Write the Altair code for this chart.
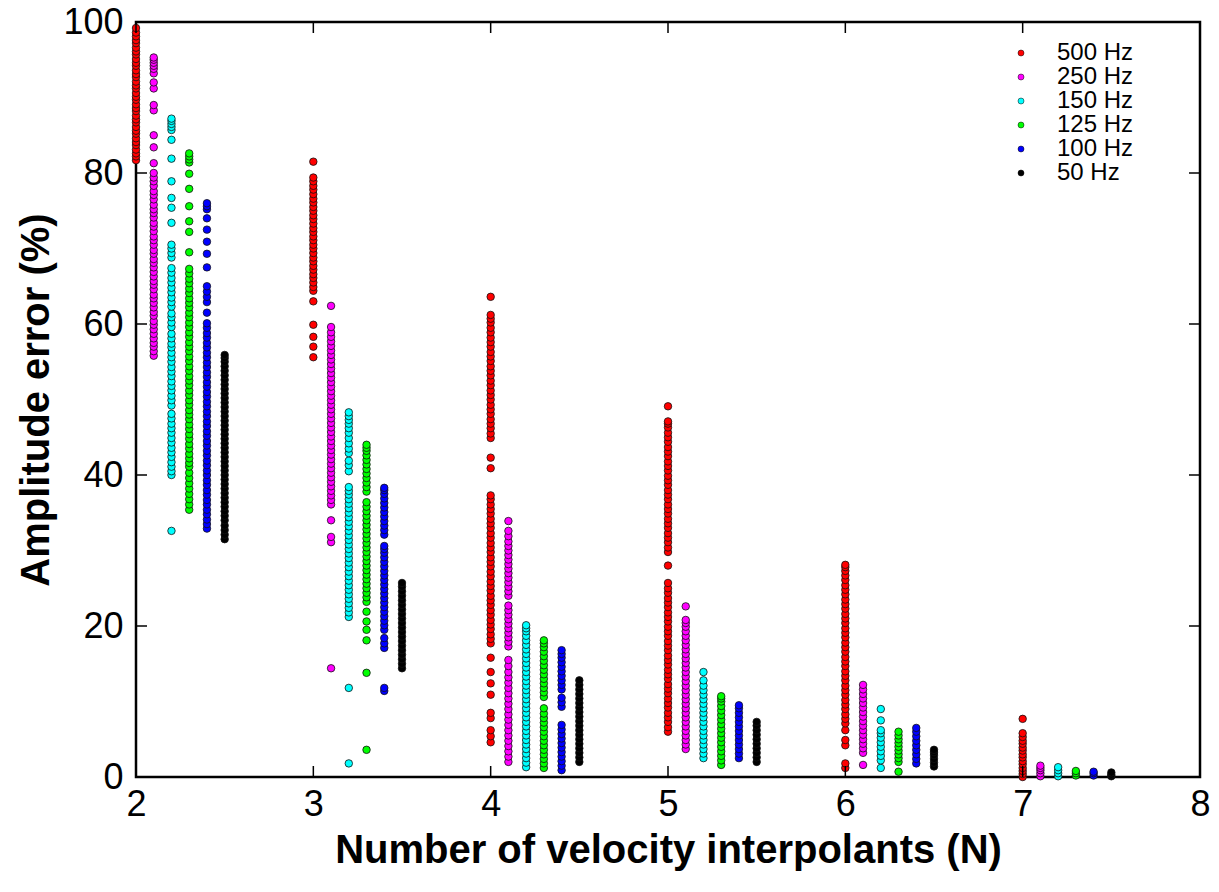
import altair as alt
import pandas as pd

freq_labels = ["500 Hz", "250 Hz", "150 Hz", "125 Hz", "100 Hz", "50 Hz"]
freq_colors = ["#ff0000", "#ff00ff", "#00ffff", "#00ff00", "#0000ff", "#000000"]
x_offsets = [0.0, 0.1, 0.2, 0.3, 0.4, 0.5]

err_500 = {
    2: [81.7, 82.2, 82.6, 83.1, 83.7, 84.1, 84.6, 85.2, 85.6, 86.1, 86.7, 87.1, 87.6, 88.2, 88.6, 89.1, 89.7, 90.1,
        90.6, 91.2, 91.6, 92.1, 92.7, 93.1, 93.6, 94.2, 94.6, 95.1, 95.7, 96.1, 96.6, 97.2, 97.6, 98.1, 98.6, 99.2],
    3: [55.6, 57.0, 58.3, 59.9, 63.0, 64.4, 64.9, 65.5, 66.1, 66.6, 67.2, 67.7, 68.3, 68.8, 69.4, 70.0, 70.5, 71.1,
        71.6, 72.2, 72.7, 73.3, 73.9, 74.4, 75.0, 75.5, 76.1, 76.6, 77.2, 77.8, 78.3, 78.9, 79.4, 81.5],
    4: [4.6, 5.4, 6.2, 7.8, 8.5, 10.9, 12.4, 13.9, 15.8, 17.7, 18.3, 18.9, 19.6, 20.2, 20.8, 21.5, 22.1, 22.8, 23.4,
        24.0, 24.7, 25.3, 25.9, 26.6, 27.2, 27.9, 28.5, 29.1, 29.8, 30.4, 31.0, 31.7, 32.3, 33.0, 33.6, 34.2, 34.9,
        35.5, 36.1, 36.8, 37.3, 40.9, 42.3, 44.9, 45.5, 46.2, 46.8, 47.4, 48.1, 48.7, 49.3, 50.0, 50.6, 51.2, 51.9,
        52.5, 53.2, 53.8, 54.4, 55.1, 55.7, 56.3, 57.0, 57.6, 58.2, 58.9, 59.5, 60.2, 60.7, 61.2, 63.6],
    5: [6.0, 6.6, 7.3, 7.9, 8.5, 9.2, 9.8, 10.4, 11.1, 11.7, 12.3, 13.0, 13.6, 14.2, 14.9, 15.5, 16.1, 16.8, 17.4,
        18.0, 18.7, 19.3, 19.9, 20.6, 21.2, 21.8, 22.5, 23.1, 23.7, 24.4, 25.0, 25.7, 28.0, 29.8, 30.4, 31.1, 31.7,
        32.3, 33.0, 33.6, 34.2, 34.9, 35.5, 36.1, 36.8, 37.4, 38.0, 38.7, 39.3, 39.9, 40.6, 41.2, 41.8, 42.5, 43.1,
        43.7, 44.4, 45.0, 45.6, 46.3, 46.8, 47.1, 49.1],
    6: [1.2, 1.8, 4.2, 4.9, 6.2, 7.1, 7.7, 8.3, 9.0, 9.6, 10.2, 10.9, 11.5, 12.1, 12.8, 13.4, 14.0, 14.7, 15.3, 15.9,
        16.6, 17.2, 17.8, 18.5, 19.1, 19.7, 20.4, 21.0, 21.6, 22.3, 22.9, 23.5, 24.2, 24.8, 25.4, 26.1, 26.7, 27.3,
        27.8, 28.1],
    7: [0.0, 0.4, 0.8, 1.2, 1.7, 2.1, 2.6, 3.0, 3.5, 3.9, 4.4, 4.8, 5.3, 5.8, 7.7],
}

err_250 = {
    2: [55.8, 56.4, 57.0, 57.5, 58.1, 58.7, 59.3, 59.9, 60.4, 61.1, 61.6, 62.2, 62.8, 63.4, 63.9, 64.6, 65.2, 65.7,
        66.3, 66.9, 67.5, 68.1, 68.6, 69.3, 69.8, 70.5, 71.1, 71.6, 72.3, 72.9, 73.4, 74.1, 74.7, 75.2, 75.8, 76.5,
        77.1, 77.6, 78.3, 78.9, 79.4, 80.0, 81.3, 83.4, 85.0, 88.3, 89.0, 91.2, 92.0, 93.2, 93.8, 94.2, 94.6, 95.0,
        95.3],
    3: [14.4, 31.1, 31.8, 34.0, 36.1, 36.7, 37.3, 37.9, 38.5, 39.1, 39.7, 40.3, 40.9, 41.5, 42.1, 42.7, 43.3, 43.9,
        44.5, 45.1, 45.7, 46.3, 46.9, 47.5, 48.1, 48.7, 49.3, 49.9, 50.5, 51.1, 51.7, 52.3, 52.9, 53.5, 54.1, 54.7,
        55.3, 55.9, 56.5, 57.1, 57.7, 58.3, 58.9, 59.6, 62.4],
    4: [2.0, 2.7, 3.4, 4.1, 4.8, 5.5, 6.2, 6.9, 7.6, 8.3, 9.0, 9.7, 10.4, 11.1, 11.8, 12.5, 13.2, 13.9, 14.7, 15.5,
        17.3, 17.9, 18.5, 19.1, 19.7, 20.3, 20.9, 21.5, 22.1, 22.7, 24.0, 24.6, 25.2, 25.8, 26.4, 27.0, 27.6, 28.2,
        28.8, 29.4, 30.0, 30.6, 31.2, 31.9, 32.6, 33.9],
    5: [3.7, 4.3, 4.9, 5.5, 6.1, 6.7, 7.3, 7.9, 8.5, 9.1, 9.7, 10.3, 10.9, 11.5, 12.1, 12.7, 13.3, 13.9, 14.5, 15.1,
        15.7, 16.3, 16.9, 17.5, 18.1, 18.7, 19.3, 19.9, 20.4, 20.8, 22.6],
    6: [1.6, 3.2, 3.8, 4.4, 5.0, 5.6, 6.2, 6.8, 7.4, 8.0, 8.6, 9.2, 9.8, 10.4, 11.0, 11.6, 12.2],
    7: [0.1, 0.5, 0.9, 1.2, 1.5],
}

err_150 = {
    2: [32.6, 40.0, 40.5, 41.1, 41.7, 42.4, 43.0, 43.6, 44.3, 44.9, 45.6, 46.2, 46.8, 47.5, 48.1, 49.2, 49.9, 50.5,
        51.2, 51.8, 52.4, 53.1, 53.7, 54.3, 55.0, 55.6, 56.2, 56.9, 57.4, 58.1, 58.7, 59.6, 60.2, 60.9, 61.4, 62.3,
        62.9, 63.5, 64.2, 64.8, 65.5, 66.1, 66.8, 67.4, 68.8, 69.4, 70.0, 70.5, 73.4, 75.4, 76.7, 78.9, 81.9, 84.4,
        85.7, 86.1, 86.5, 86.9, 87.2],
    3: [1.8, 11.8, 21.2, 21.8, 22.4, 23.0, 23.6, 24.2, 24.8, 25.4, 26.0, 26.6, 27.2, 27.8, 28.4, 29.0, 29.6, 30.2,
        30.8, 31.4, 32.0, 32.6, 33.2, 33.8, 34.4, 35.0, 35.6, 36.2, 36.8, 37.4, 37.9, 38.4, 40.5, 41.3, 41.9, 42.9,
        43.5, 44.2, 44.9, 45.6, 46.2, 46.8, 47.3, 47.8, 48.3],
    4: [1.3, 1.9, 2.5, 3.1, 3.7, 4.3, 4.9, 5.5, 6.1, 6.7, 7.3, 7.9, 8.5, 9.1, 9.7, 10.3, 10.9, 11.5, 12.1, 12.7,
        13.3, 13.9, 14.5, 15.1, 15.7, 16.3, 16.9, 17.5, 18.1, 18.7, 19.3, 19.7, 20.1],
    5: [2.5, 3.1, 3.7, 4.3, 4.9, 5.5, 6.1, 6.7, 7.3, 7.9, 8.5, 9.1, 9.7, 10.3, 10.9, 11.5, 12.1, 12.8, 13.9],
    6: [1.2, 2.2, 2.8, 3.4, 4.0, 4.6, 5.2, 5.8, 6.2, 7.5, 9.0],
    7: [0.1, 0.5, 0.9, 1.3],
}

err_125 = {
    2: [35.4, 36.1, 36.8, 37.5, 38.2, 38.9, 39.6, 40.3, 41.1, 41.6, 42.2, 42.8, 43.5, 44.1, 44.8, 45.4, 46.1, 46.7,
        47.4, 48.0, 48.6, 49.3, 49.9, 50.6, 51.2, 51.9, 52.5, 53.1, 53.8, 54.4, 55.1, 55.7, 56.4, 57.0, 57.6, 58.3,
        58.9, 59.6, 60.2, 60.9, 61.5, 62.2, 62.8, 63.4, 64.1, 64.7, 65.4, 66.0, 66.7, 67.3, 69.5, 72.2, 73.6, 75.6,
        77.9, 79.9, 81.4, 81.8, 82.2, 82.6],
    3: [3.6, 13.8, 18.1, 19.5, 20.6, 21.9, 23.2, 23.8, 24.4, 25.0, 25.6, 26.2, 26.8, 27.4, 28.0, 28.6, 29.2, 29.8,
        30.4, 31.0, 31.6, 32.2, 32.8, 33.4, 34.0, 34.6, 35.2, 35.8, 36.4, 37.8, 38.4, 39.0, 39.6, 40.2, 40.8, 41.4,
        42.0, 42.6, 43.2, 43.6, 44.0],
    4: [1.2, 1.8, 2.4, 3.0, 3.6, 4.2, 4.8, 5.4, 6.0, 6.6, 7.2, 7.8, 8.4, 9.1, 10.6, 11.2, 11.8, 12.4, 13.0, 13.6,
        14.2, 14.8, 15.4, 16.0, 16.6, 17.2, 17.7, 18.1],
    5: [1.6, 2.2, 2.8, 3.4, 4.0, 4.6, 5.2, 5.8, 6.4, 7.0, 7.6, 8.2, 8.8, 9.4, 10.0, 10.4, 10.7],
    6: [0.7, 2.0, 2.5, 3.0, 3.5, 4.0, 4.5, 5.0, 5.5, 6.0],
    7: [0.2, 0.5, 0.8],
}

err_100 = {
    2: [32.9, 33.5, 34.1, 34.8, 35.4, 36.1, 36.7, 37.4, 38.0, 38.7, 39.3, 40.0, 40.6, 41.3, 41.9, 42.6, 43.2, 43.9,
        44.5, 45.2, 45.8, 46.5, 47.1, 47.8, 48.4, 49.1, 49.7, 50.4, 51.0, 51.7, 52.3, 53.0, 53.6, 54.3, 54.9, 55.6,
        56.2, 56.9, 57.5, 58.2, 58.8, 59.5, 60.1, 61.5, 62.9, 63.6, 64.3, 65.0, 67.5, 69.3, 70.9, 72.5, 74.0, 75.2,
        75.6, 76.0],
    3: [11.4, 11.8, 17.1, 17.7, 18.4, 19.5, 20.1, 20.7, 21.3, 21.9, 22.5, 23.1, 23.7, 24.3, 24.9, 25.5, 26.1, 26.7,
        27.3, 27.9, 28.5, 29.1, 29.7, 30.2, 30.6, 32.1, 32.7, 33.3, 33.9, 34.5, 35.1, 35.7, 36.3, 36.9, 37.5, 38.0,
        38.3],
    4: [0.9, 1.5, 2.1, 2.7, 3.3, 3.9, 4.5, 5.1, 5.7, 6.3, 6.9, 9.3, 9.9, 10.5, 11.6, 12.2, 12.8, 13.4, 14.0, 14.6,
        15.2, 15.8, 16.3, 16.8],
    5: [2.5, 3.1, 3.7, 4.3, 4.9, 5.5, 6.1, 6.7, 7.3, 7.9, 8.5, 9.1, 9.5],
    6: [1.8, 2.4, 3.0, 3.6, 4.2, 4.8, 5.4, 6.0, 6.5],
    7: [0.2, 0.5, 0.7],
}

err_50 = {
    2: [31.5, 32.1, 32.7, 33.3, 34.0, 34.6, 35.2, 35.8, 36.4, 37.0, 37.6, 38.2, 38.8, 39.4, 40.0, 40.6, 41.2, 41.8,
        42.4, 43.0, 43.6, 44.2, 44.8, 45.4, 46.0, 46.6, 47.2, 47.8, 48.4, 49.0, 49.6, 50.2, 50.8, 51.4, 52.0, 52.6,
        53.2, 53.8, 54.4, 55.0, 55.5, 55.9],
    3: [14.4, 15.0, 15.6, 16.2, 16.8, 17.4, 18.0, 18.6, 19.2, 19.8, 20.4, 21.0, 21.6, 22.2, 22.8, 23.4, 24.0, 24.6,
        25.2, 25.7],
    4: [2.0, 2.6, 3.2, 3.8, 4.4, 5.0, 5.6, 6.2, 6.8, 7.4, 8.0, 8.6, 9.2, 9.8, 10.4, 11.0, 11.6, 12.2, 12.8],
    5: [2.0, 2.6, 3.2, 3.8, 4.4, 5.0, 5.6, 6.2, 6.8, 7.3],
    6: [1.4, 1.9, 2.4, 2.9, 3.3, 3.6],
    7: [0.1, 0.3, 0.6],
}

x_ticks = [2, 3, 4, 5, 6, 7, 8]
y_ticks = [0, 20, 40, 60, 80, 100]

all_series = [err_500, err_250, err_150, err_125, err_100, err_50]
rows = []
for label, off, series in zip(freq_labels, x_offsets, all_series):
    for n, vals in series.items():
        for v in vals:
            rows.append({"N": n + off, "error": v, "freq": label})
df = pd.DataFrame(rows)

FONT = "Liberation Sans"
W, H = 1064, 755

xscale = alt.Scale(domain=[2, 8], nice=False, zero=False)
yscale = alt.Scale(domain=[0, 100], nice=False, zero=False)

xaxis = alt.Axis(
    values=x_ticks, title="Number of velocity interpolants (N)", ticks=False, domain=False, grid=False,
    labelFontSize=36, labelFont=FONT, labelColor="black", labelPadding=10, labelFlush=False,
    titleFontSize=40, titleFont=FONT, titleFontWeight="bold", titleColor="black", titlePadding=8,
)
yaxis = alt.Axis(
    values=y_ticks, title="Amplitude error (%)", ticks=False, domain=False, grid=False,
    labelFontSize=36, labelFont=FONT, labelColor="black", labelPadding=13, labelFlush=False,
    titleFontSize=40, titleFont=FONT, titleFontWeight="bold", titleColor="black", titlePadding=6,
)

points = alt.Chart(df).mark_point(
    filled=True, shape="circle", size=56, stroke="#111111", strokeWidth=0.8, opacity=1
).encode(
    x=alt.X("N:Q", scale=xscale, axis=xaxis),
    y=alt.Y("error:Q", scale=yscale, axis=yaxis),
    fill=alt.Fill("freq:N", scale=alt.Scale(domain=freq_labels, range=freq_colors), legend=alt.Legend(
        title=None, orient="none", legendX=873, legendY=19, padding=0,
        labelFontSize=24, labelFont=FONT, labelColor="black", labelOffset=24,
        symbolType="circle", symbolSize=36, symbolStrokeColor="black", symbolStrokeWidth=0.5,
        rowPadding=0,
    )),
)

ydf = pd.DataFrame({"v": y_ticks})
xdf = pd.DataFrame({"v": x_ticks})

ytick_l = alt.Chart(ydf).mark_rule(color="black", strokeWidth=1.5).encode(
    y=alt.Y("v:Q", scale=yscale, axis=yaxis), x=alt.value(0), x2=alt.value(11))
ytick_r = alt.Chart(ydf).mark_rule(color="black", strokeWidth=1.5).encode(
    y=alt.Y("v:Q", scale=yscale, axis=yaxis), x=alt.value(W - 11), x2=alt.value(W))
xtick_b = alt.Chart(xdf).mark_rule(color="black", strokeWidth=1.5).encode(
    x=alt.X("v:Q", scale=xscale, axis=xaxis), y=alt.value(H - 11), y2=alt.value(H))
xtick_t = alt.Chart(xdf).mark_rule(color="black", strokeWidth=1.5).encode(
    x=alt.X("v:Q", scale=xscale, axis=xaxis), y=alt.value(0), y2=alt.value(11))

chart = alt.layer(points, ytick_l, ytick_r, xtick_b, xtick_t).properties(
    width=W, height=H,
    autosize=alt.AutoSizeParams(type="none"),
    padding={"left": 136, "top": 22, "right": 19, "bottom": 115},
    background="white",
).configure_view(stroke="black", strokeWidth=2.5)

chart.save("out.html", embed_options={"renderer": "svg", "actions": False})
